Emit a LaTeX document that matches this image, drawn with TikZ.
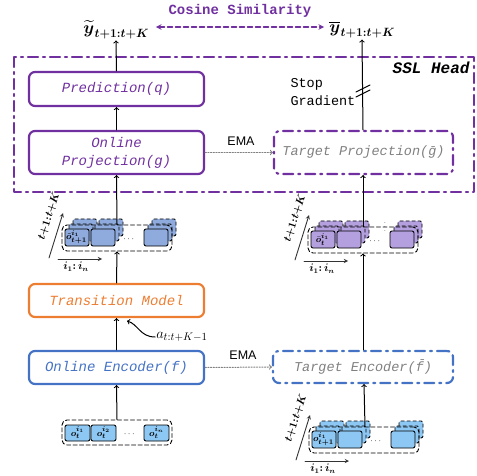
\documentclass[tikz,border=0pt]{standalone}
\usepackage{amsmath,amssymb,bm}
\usepackage{fontspec}
\setmonofont{Liberation Mono}
\setsansfont{Liberation Sans}

\definecolor{sslpurple}{HTML}{7030A0}
\definecolor{encblue}{HTML}{4472C4}
\definecolor{transorange}{HTML}{ED7D31}
\definecolor{cellblue}{HTML}{8FAADC}
\definecolor{cellpurple}{HTML}{B4A0DE}
\definecolor{obsblue}{HTML}{8DC8F4}
\definecolor{tgtgray}{HTML}{808080}

\tikzset{
  block/.style={draw,rounded corners=6pt,line width=2.2pt,minimum width=175pt,inner sep=0pt,
    align=center,font=\fontsize{14}{18}\selectfont\ttfamily\itshape},
  tgtblock/.style={block,dash pattern=on 10pt off 5pt on 2pt off 5pt,text=tgtgray,
    font=\fontsize{13.5}{18}\selectfont\ttfamily\itshape},
  cell/.style={rounded corners=2pt,line width=0.9pt},
  seqframe/.style={draw,dash pattern=on 4pt off 2.5pt,rounded corners=5pt,line width=0.9pt,
    minimum width=110pt,minimum height=26pt,inner sep=0pt},
  cellfont/.style={font=\fontsize{9.5}{9.5}\selectfont,inner sep=0pt},
  axisfont/.style={font=\fontsize{10.5}{10.5}\selectfont,inner sep=0pt},
  outlabel/.style={inner sep=1pt},
  axis/.style={-stealth,line width=0.9pt,draw=black!80},
  flow/.style={->,line width=1pt},
  ema/.style={->,draw=gray,line width=1pt,dash pattern=on 1.2pt off 1.5pt},
}

% bold output label: big symbol, near full size tight subscript
\newcommand{\outsym}[1]{{\fontsize{18}{18}\selectfont$\bm{#1}$}\kern0.5pt\raisebox{-4pt}{\fontsize{12.5}{12.5}\selectfont$\bm{t{+}1{:}t{+}K}$}}

% sequence of cells with two shadow layers behind it
\newcommand{\seqstack}[5]{%
  \foreach \dx/\dy in {8/-10,4/-5}
    \foreach \bx in {3,29,82}
      \draw[cell,dashed,fill=#4] (#2+\bx+\dx,#3+4+\dy) rectangle ++(24,17);
  \node[seqframe] (#1) at (#2+55,#3+13) {};
  \foreach \bx in {3,29,82}
    \draw[cell,fill=#4] (#2+\bx,#3+4) rectangle ++(24,17);
  \node[cellfont] at (#2+14.5,#3+12.5) {#5};
  \node[cellfont] at (#2+67.5,#3+14) {$\cdots$};
  \draw[axis] (#2-13,#3+33) -- (#2+1,#3-12);
  \draw[axis] (#2-4,#3+34) -- (#2+40,#3+34);
  \node[axisfont,rotate=72] at (#2-13,#3-9) {$\bm{t{+}1{:}t{+}K}$};
  \node[axisfont] at (#2+14,#3+42) {$\bm{i_1{:}\,i_n}$};
}

\begin{document}
\begin{tikzpicture}[x=1pt,y=-1pt,line cap=round,line join=round]
\useasboundingbox (0,0) rectangle (477,476);

% SSL head frame
\draw[sslpurple,line width=2.2pt,dash pattern=on 10pt off 5pt on 2pt off 5pt] (14,57) rectangle (474,192);
\node[anchor=east,font=\fontsize{16}{16}\selectfont\ttfamily\bfseries\itshape] (sslhead) at (473,68) {SSL Head};

% outputs
\node[outlabel] (ytil) at (116,30) {\outsym{\widetilde{y}}};
\node[outlabel] (ybar) at (362,30) {\outsym{\overline{y}}};
\node[text=sslpurple,font=\fontsize{14}{14}\selectfont\ttfamily\bfseries] (cosine) at (240,11) {Cosine Similarity};
\draw[sslpurple,<->,>=stealth,line width=1.5pt,dash pattern=on 5pt off 3pt,shorten <=6pt,shorten >=4pt]
  ([yshift=3pt]ytil.east) -- ([yshift=3pt]ybar.west);

% online branch
\node[block,draw=sslpurple,text=sslpurple,minimum height=34pt] (pred) at (116.5,89) {Prediction(q)};
\node[block,draw=sslpurple,text=sslpurple,minimum height=43pt] (oproj) at (116.5,152.5) {Online\\Projection(g)};
\node[block,draw=transorange,text=transorange,minimum height=33pt] (trans) at (116.5,300.5) {Transition Model};
\node[block,draw=encblue,text=encblue,minimum height=33pt] (oenc) at (116.5,367.5) {Online Encoder(f)};

% target branch
\node[tgtblock,draw=sslpurple,minimum width=179pt,minimum height=43pt] (tproj) at (363.5,152.5) {Target Projection(\={g})};
\node[tgtblock,draw=encblue,minimum width=180pt,minimum height=32pt] (tenc) at (363,367) {Target Encoder(\={f})};

% sequences
\seqstack{lstack}{62}{225}{cellblue}{$\bm{\tilde{o}}^{\bm{i_1}}_{\bm{t{+}1}}$}
\seqstack{rstack}{308}{227}{cellpurple}{$\bm{\bar{o}}^{\bm{i_1}}_{\bm{t}}$}
\seqstack{tstack}{309}{427}{obsblue}{$\bm{o}^{\bm{i_1}}_{\bm{t{+}1}}$}
\node[font=\fontsize{7}{7}\selectfont,inner sep=0pt] (rdots) at (385,224) {$\vdots$};

\node[seqframe,minimum height=25pt] (obs) at (117,432.5) {};
\foreach \bx/\lab in {65/1,91/2,144/n} {
  \draw[cell,fill=obsblue] (\bx,425) rectangle ++(25,16);
  \node[cellfont] at (\bx+12.5,433) {$\bm{o}^{\bm{i_{\lab}}}_{\bm{t}}$};
}
\node[cellfont] at (130,434) {$\cdots$};

% online flow
\draw[flow] (obs.north) -- (oenc.south);
\draw[flow] (oenc.north) -- (trans.south);
\draw[flow] (trans.north) -- (lstack.south);
\draw[flow] (lstack.north) -- (oproj.south);
\draw[flow] (oproj.north) -- (pred.south);
\draw[flow] (pred.north) -- (ytil.south);

% action input
\node[font=\fontsize{15}{15}\selectfont,inner sep=1pt] (act) at (182,337) {$a_{t{:}t{+}K{-}1}$};
\coordinate (acttip) at (127,321);
\draw[->,line width=1pt] (act.west) .. controls (140,337) and (138,324) .. (acttip);

% target flow
\draw[flow] ([xshift=1pt]tstack.north) -- ([xshift=1pt]tenc.south);
\draw[flow] (tenc.north) -- (rstack.south);
\draw[flow] (rstack.north) -- ([xshift=-0.5pt]tproj.south);
\draw[flow] ([xshift=-0.5pt]tproj.north) -- (ybar.south);
\draw[line width=1pt] (356,92) -- (370,85) (356,97) -- (370,90);
\node[anchor=west,align=left,font=\fontsize{13.5}{18}\selectfont\ttfamily] (stopgrad) at (287,92) {Stop\\Gradient};

% EMA updates
\draw[ema] (oproj.east) -- (tproj.west);
\node[font=\fontsize{12.5}{12.5}\selectfont\sffamily] (ema1) at (241,141) {EMA};
\draw[ema] (oenc.east) -- (tenc.west);
\node[font=\fontsize{12.5}{12.5}\selectfont\sffamily] (ema2) at (243,355) {EMA};
\end{tikzpicture}
\end{document}
